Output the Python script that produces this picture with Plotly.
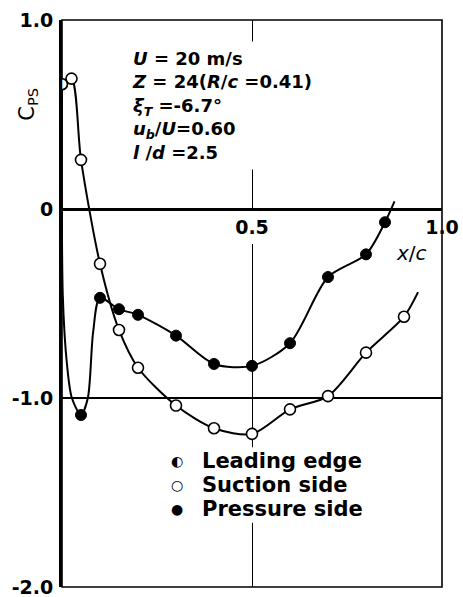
import plotly.graph_objects as go

# ---- data ----
le_x = [0.0]
le_y = [0.66]

suction_x = [0.025, 0.05, 0.10, 0.15, 0.20, 0.30, 0.40, 0.50, 0.60, 0.70, 0.80, 0.90]
suction_y = [0.69, 0.26, -0.29, -0.64, -0.84, -1.04, -1.16, -1.19, -1.06, -0.99, -0.76, -0.57]

pressure_x = [0.05, 0.10, 0.15, 0.20, 0.30, 0.40, 0.50, 0.60, 0.70, 0.80, 0.85]
pressure_y = [-1.09, -0.47, -0.53, -0.56, -0.67, -0.82, -0.83, -0.71, -0.36, -0.24, -0.07]

# faired curves as drawn in the figure
suction_curve_x = [0.0, 0.025, 0.05, 0.10, 0.15, 0.20, 0.30, 0.40, 0.50, 0.60, 0.70, 0.80, 0.90, 0.937]
suction_curve_y = [0.66, 0.69, 0.26, -0.29, -0.64, -0.84, -1.04, -1.16, -1.19, -1.06, -0.99, -0.76, -0.57, -0.44]

pressure_curve_x = [0.0, 0.002, 0.013, 0.026, 0.05, 0.068, 0.082, 0.10, 0.15, 0.20, 0.30, 0.40, 0.50, 0.60, 0.70, 0.80, 0.85, 0.875]
pressure_curve_y = [0.66, -0.45, -0.82, -1.0, -1.09, -1.0, -0.65, -0.47, -0.53, -0.56, -0.67, -0.82, -0.83, -0.71, -0.36, -0.24, -0.07, 0.04]

x_ticks = [0.5, 1.0]
x_ticktext = ["0.5", "1.0"]
y_ticks = [1.0, 0.0, -1.0, -2.0]
y_ticktext = ["1.0", "0", "-1.0", "-2.0"]

legend_labels = ["Leading edge", "Suction side", "Pressure side"]
legend_glyphs = ["◐", "○", "●"]
legend_rows_y = [-1.335, -1.46, -1.585]

FONT = "DejaVu Sans"

fig = go.Figure()

fig.add_trace(go.Scatter(x=suction_curve_x, y=suction_curve_y, mode="lines",
                         line=dict(color="black", width=2, shape="spline", smoothing=0.8),
                         hoverinfo="skip", showlegend=False))
fig.add_trace(go.Scatter(x=pressure_curve_x, y=pressure_curve_y, mode="lines",
                         line=dict(color="black", width=2, shape="spline", smoothing=0.8),
                         hoverinfo="skip", showlegend=False))

fig.add_trace(go.Scatter(x=suction_x, y=suction_y, mode="markers",
                         marker=dict(symbol="circle", size=11, color="white",
                                     line=dict(color="black", width=1.6)),
                         name="Suction side", showlegend=False))
fig.add_trace(go.Scatter(x=pressure_x, y=pressure_y, mode="markers",
                         marker=dict(symbol="circle", size=11, color="black",
                                     line=dict(color="black", width=1)),
                         name="Pressure side", showlegend=False))
fig.add_trace(go.Scatter(x=le_x, y=le_y, mode="markers",
                         marker=dict(symbol="circle", size=11, color="white",
                                     line=dict(color="black", width=1.6)),
                         showlegend=False, hoverinfo="skip"))
fig.add_trace(go.Scatter(x=le_x, y=le_y, mode="text", text=["◐"],
                         textfont=dict(family=FONT, size=15, color="black"),
                         textposition="middle center",
                         name="Leading edge", showlegend=False))

# parameter block
params = ("<i>U</i> = 20 m/s<br>"
          "<i>Z</i> = 24(<i>R</i>/<i>c</i> =0.41)<br>"
          "<i>ξ<sub>T</sub></i> =-6.7°<br>"
          "<i>u<sub>b</sub></i>/<i>U</i>=0.60<br>"
          "<i>l</i> /<i>d</i> =2.5")
fig.add_annotation(x=0.166, y=0.89, xref="x", yref="y", text=params, showarrow=False,
                   xanchor="left", yanchor="top", align="left",
                   font=dict(family=FONT, size=18, color="black", weight="bold"),
                   bgcolor="white", borderpad=6)

# white patches that interrupt the x = 0.5 grid line (legend and tick label)
fig.add_shape(type="rect", xref="x", yref="y", x0=0.27, x1=0.84, y0=-1.66, y1=-1.26,
              fillcolor="white", line=dict(width=0), layer="between")
fig.add_shape(type="rect", xref="x", yref="y", x0=0.46, x1=0.54, y0=-0.185, y1=-0.01,
              fillcolor="white", line=dict(width=0), layer="between")

# legend, drawn as text rows
for g, t, yy in zip(legend_glyphs, legend_labels, legend_rows_y):
    fig.add_annotation(x=0.362, y=yy, xref="x", yref="y", text=t, showarrow=False,
                       xanchor="left", yanchor="middle", align="left",
                       font=dict(family=FONT, size=21, color="black", weight="bold"))
    fig.add_annotation(x=0.303, y=yy, xref="x", yref="y", text=g, showarrow=False,
                       xanchor="center", yanchor="middle",
                       font=dict(family=FONT, size=14, color="black"))

fig.add_annotation(x=0.92, y=-0.233, xref="x", yref="y", text="<i>x</i>/<i>c</i>",
                   showarrow=False, xanchor="center", yanchor="middle",
                   font=dict(family=FONT, size=20, color="black"))

fig.add_annotation(x=-0.09, y=0.852, xref="paper", yref="paper", text="C<sub>PS</sub>",
                   showarrow=False, textangle=-90, xanchor="center", yanchor="middle",
                   font=dict(family=FONT, size=21, color="black"))

# frame
fig.add_shape(type="rect", xref="paper", yref="paper", x0=0, y0=0, x1=1, y1=1,
              line=dict(color="black", width=1.6), layer="below")

fig.update_layout(
    width=463, height=597,
    margin=dict(l=62, r=21, t=20, b=10, autoexpand=False),
    paper_bgcolor="white", plot_bgcolor="white",
    font=dict(family=FONT, color="black"),
    xaxis=dict(range=[0, 1], anchor="free", position=2/3, showline=True,
               linecolor="black", linewidth=2.5, ticks="", tickvals=x_ticks,
               ticktext=x_ticktext, tickfont=dict(size=19, family=FONT, weight="bold"),
               showgrid=True, gridcolor="black", gridwidth=1.4, zeroline=False,
               ticklabelstandoff=0, ticklabeloverflow="allow", automargin=False),
    yaxis=dict(range=[-2, 1], showline=True, linecolor="black", linewidth=3,
               ticks="", tickvals=y_ticks, ticktext=y_ticktext,
               tickfont=dict(size=19, family=FONT, weight="bold"), showgrid=True,
               gridcolor="black", gridwidth=1.6, zeroline=False,
               ticklabelstandoff=2, ticklabeloverflow="allow", automargin=False),
    showlegend=False,
)

fig.write_html("out.html")
